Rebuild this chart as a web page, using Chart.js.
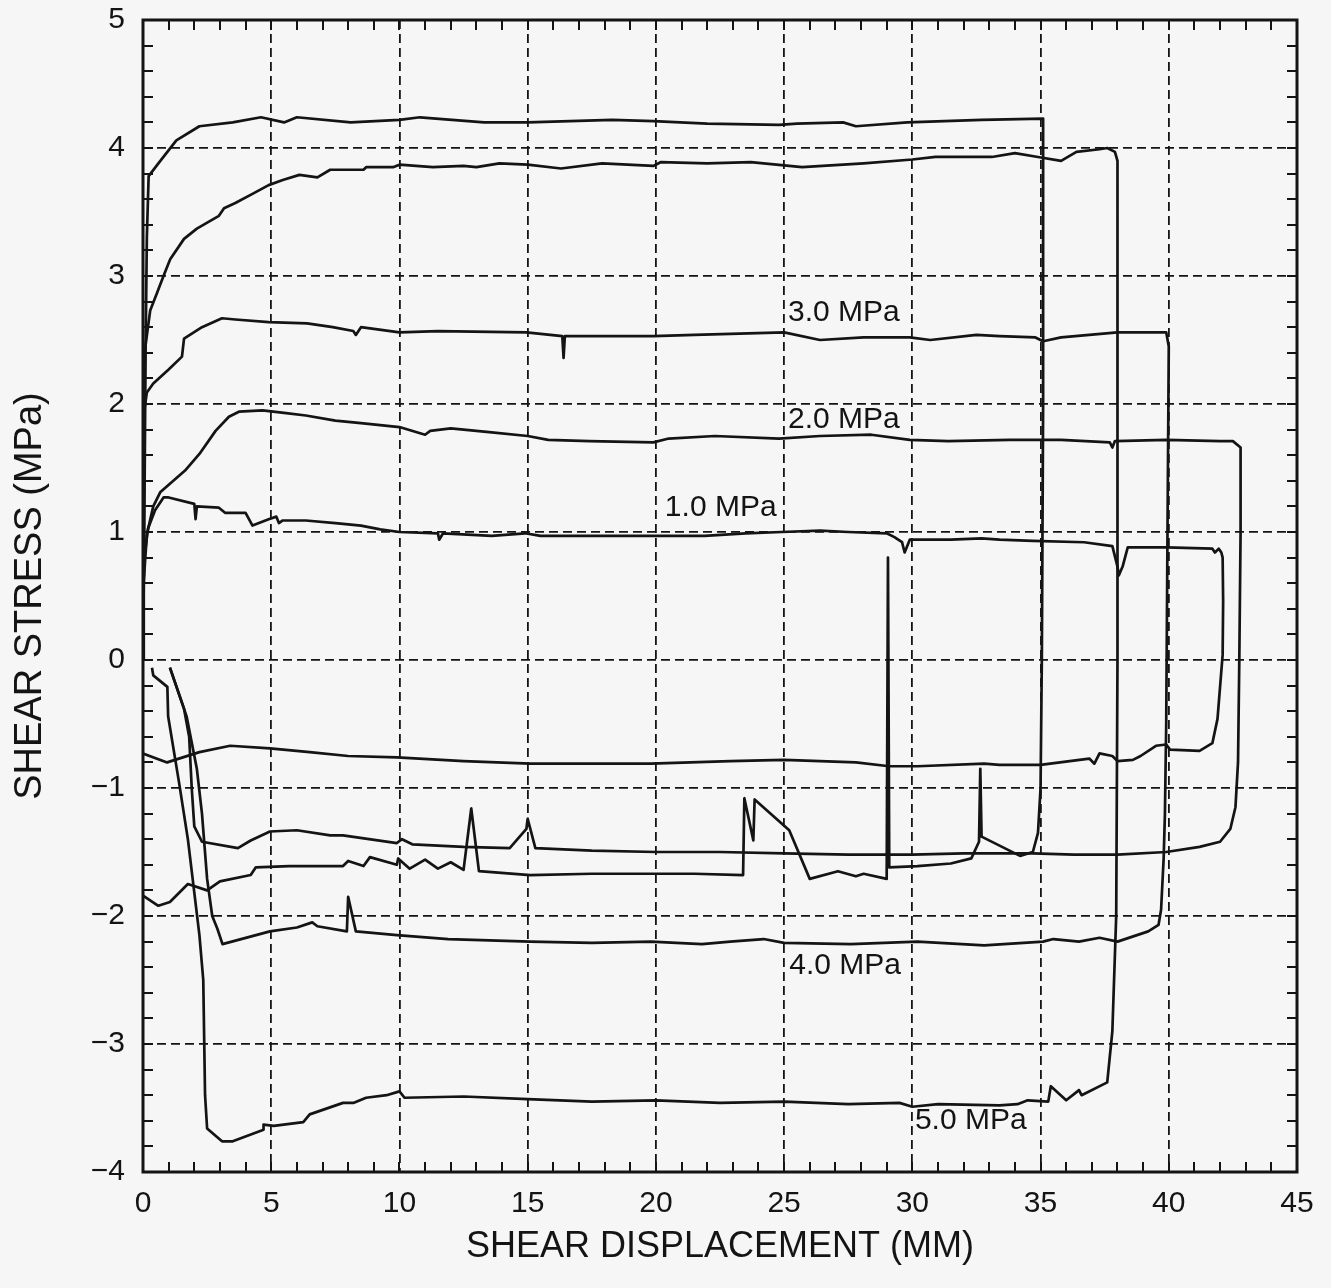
<!DOCTYPE html>
<html>
<head>
<meta charset="utf-8">
<title>Shear stress vs shear displacement</title>
<script src="https://cdn.jsdelivr.net/npm/chart.js@4.4.1/dist/chart.umd.min.js"></script>
<style>
  html, body { margin: 0; padding: 0; background: #f6f6f6; }
  #wrap { width: 1331px; height: 1288px; }
</style>
</head>
<body>
<div id="wrap"><canvas id="shearChart" width="1331" height="1288"></canvas></div>
<script>
// [displacement mm, shear stress MPa], forward leg then reverse leg
const run1 = [[0,0],[0.02,0.53],[0.05,0.8],[0.2,1.03],[0.47,1.17],[0.8,1.27],[1.0,1.27],[2.0,1.22],[2.05,1.1],[2.1,1.2],[2.96,1.19],[3.2,1.15],[4.0,1.15],[4.27,1.05],[4.9,1.1],[5.2,1.12],[5.3,1.07],[5.45,1.09],[6.35,1.09],[7.5,1.07],[8.5,1.05],[9.25,1.02],[10,1.0],[11.5,0.99],[11.55,0.94],[11.7,0.99],[13.6,0.97],[14.9,0.99],[15.5,0.97],[17.5,0.97],[19.7,0.97],[21.9,0.97],[23.5,0.99],[24.9,1.0],[26.4,1.01],[27.5,1.0],[29.0,0.99],[29.3,0.96],[29.6,0.92],[29.7,0.84],[29.9,0.94],[31.5,0.94],[32.7,0.95],[33.4,0.94],[34.7,0.93],[36.7,0.92],[37.8,0.89],[38.0,0.73],[38.05,0.66],[38.2,0.73],[38.4,0.88],[39.9,0.88],[41.7,0.87],[41.8,0.84],[41.95,0.87],[42.05,0.84],[42.1,0.8],[42.12,0.46],[42.1,0.04],[41.9,-0.46],[41.7,-0.65],[41.2,-0.71],[40.05,-0.7],[39.9,-0.66],[39.5,-0.67],[38.9,-0.75],[38.6,-0.78],[38.0,-0.79],[37.8,-0.75],[37.3,-0.73],[37.1,-0.81],[36.9,-0.77],[35.0,-0.82],[33.4,-0.82],[32.8,-0.81],[30.2,-0.83],[29.1,-0.83],[27.8,-0.8],[25,-0.78],[22.9,-0.79],[19.8,-0.81],[17.5,-0.81],[15.1,-0.81],[12.5,-0.79],[9.9,-0.76],[8,-0.75],[6.5,-0.72],[4.95,-0.69],[3.4,-0.67],[2.2,-0.72],[0.94,-0.8],[0,-0.73]];

const run2 = [[0,0],[0.03,0.62],[0.15,0.98],[0.4,1.2],[0.67,1.31],[1.64,1.48],[2.2,1.61],[2.83,1.79],[3.35,1.9],[3.74,1.94],[4.66,1.95],[5.5,1.93],[6.35,1.91],[7.5,1.87],[8.5,1.85],[10,1.82],[11,1.76],[11.2,1.79],[12,1.81],[13.5,1.78],[15,1.75],[15.8,1.72],[17.4,1.71],[19.9,1.7],[20.5,1.73],[22.3,1.75],[24.8,1.73],[26.4,1.75],[28.4,1.76],[29.9,1.72],[31.4,1.71],[33.8,1.72],[35.8,1.72],[37.7,1.7],[37.8,1.66],[37.9,1.71],[39.9,1.72],[42.0,1.71],[42.5,1.71],[42.8,1.66],[42.8,1.0],[42.75,0],[42.7,-0.8],[42.6,-1.15],[42.4,-1.32],[42.0,-1.42],[41.2,-1.46],[39.9,-1.5],[38,-1.52],[36.3,-1.52],[34.7,-1.51],[32,-1.51],[30,-1.52],[27.5,-1.52],[25,-1.51],[22.5,-1.5],[20,-1.5],[17.5,-1.49],[15.3,-1.47],[15.0,-1.24],[14.95,-1.32],[14.3,-1.47],[12.5,-1.46],[10.5,-1.44],[10.1,-1.4],[9.9,-1.43],[7.8,-1.37],[7.3,-1.37],[6.0,-1.33],[4.95,-1.34],[4.2,-1.41],[3.7,-1.47],[2.3,-1.42],[2.0,-1.3],[1.9,-1.0],[1.8,-0.6],[1.6,-0.38],[1.05,-0.06]];

const run3 = [[0,0],[0.02,1.2],[0.05,1.95],[0.15,2.09],[0.4,2.16],[1.0,2.27],[1.52,2.37],[1.6,2.51],[2.3,2.6],[3.08,2.67],[3.6,2.66],[4.9,2.64],[6.4,2.63],[7.4,2.6],[8.2,2.57],[8.3,2.54],[8.5,2.6],[10,2.56],[11.5,2.57],[14.95,2.56],[16.35,2.53],[16.4,2.36],[16.45,2.53],[18,2.53],[19.9,2.53],[21.5,2.54],[25.0,2.56],[26.4,2.5],[28.1,2.52],[29.9,2.52],[30.7,2.5],[32.5,2.54],[33.4,2.53],[34.8,2.52],[35.1,2.49],[35.8,2.52],[38,2.56],[39.9,2.56],[40.0,2.45],[39.95,1.0],[39.9,-0.5],[39.85,-1.2],[39.8,-1.55],[39.7,-1.95],[39.6,-2.07],[39.2,-2.12],[38.0,-2.2],[37.3,-2.17],[36.5,-2.2],[35.5,-2.18],[35.1,-2.2],[32.8,-2.23],[30.2,-2.2],[27.6,-2.22],[25,-2.21],[24.2,-2.18],[22.9,-2.2],[21.8,-2.22],[19.8,-2.2],[17.5,-2.21],[15.1,-2.2],[11.9,-2.18],[9.9,-2.15],[8.3,-2.12],[8.0,-1.85],[7.95,-2.12],[6.8,-2.08],[6.6,-2.05],[6.0,-2.09],[4.95,-2.12],[3.1,-2.22],[2.9,-2.1],[2.7,-2.0],[2.5,-1.71],[2.3,-1.2],[2.1,-0.85],[1.7,-0.44],[1.05,-0.06]];

const run4 = [[0,0],[0.05,1.0],[0.1,2.4],[0.15,3.3],[0.22,3.78],[0.6,3.88],[1.3,4.06],[2.2,4.17],[3.5,4.2],[4.6,4.24],[5.5,4.2],[6,4.24],[8.1,4.2],[10,4.22],[10.8,4.24],[13.3,4.2],[15,4.2],[18.3,4.22],[19.9,4.21],[22,4.19],[24.8,4.18],[25.5,4.19],[27.3,4.2],[27.8,4.17],[29.8,4.2],[32.7,4.22],[35.1,4.23],[35.1,2.0],[35.05,0],[35.0,-1.0],[34.9,-1.35],[34.7,-1.5],[34.2,-1.53],[32.7,-1.38],[32.65,-0.85],[32.6,-1.42],[32.3,-1.55],[31.5,-1.59],[30.2,-1.61],[29.1,-1.62],[29.05,0.8],[29.0,-1.71],[28.1,-1.67],[27.8,-1.69],[27.1,-1.65],[26.0,-1.71],[25.2,-1.33],[23.85,-1.09],[23.8,-1.41],[23.45,-1.08],[23.4,-1.68],[21.5,-1.67],[19.8,-1.67],[17.5,-1.67],[15.1,-1.68],[13.1,-1.65],[12.8,-1.16],[12.5,-1.64],[12.0,-1.58],[11.5,-1.63],[11.0,-1.56],[10.4,-1.63],[9.95,-1.55],[9.9,-1.6],[8.85,-1.54],[8.6,-1.61],[8.0,-1.57],[7.8,-1.61],[5.7,-1.61],[4.4,-1.62],[4.2,-1.68],[3.0,-1.73],[2.5,-1.8],[1.75,-1.75],[1.05,-1.89],[0.6,-1.92],[0,-1.84]];

const run5 = [[0,0],[0.04,1.5],[0.08,2.43],[0.28,2.73],[0.55,2.87],[0.8,3.0],[1.06,3.13],[1.6,3.29],[2.1,3.37],[2.96,3.47],[3.16,3.53],[3.6,3.57],[4.25,3.64],[4.9,3.71],[5.45,3.75],[6.1,3.79],[6.8,3.77],[7.3,3.83],[8.6,3.83],[8.7,3.85],[9.75,3.85],[10.0,3.87],[11.3,3.85],[12.5,3.86],[13.0,3.85],[13.9,3.88],[15,3.87],[16.3,3.84],[17.9,3.88],[19.9,3.86],[20.2,3.89],[22,3.88],[23.7,3.89],[25.7,3.85],[28.1,3.88],[30,3.91],[30.9,3.93],[33.1,3.93],[34.0,3.96],[34.9,3.93],[35.8,3.9],[36.4,3.97],[37.3,3.99],[37.6,4.0],[37.9,3.97],[38.0,3.9],[38.0,0],[37.95,-2.0],[37.8,-2.9],[37.6,-3.3],[36.6,-3.4],[36.5,-3.36],[36.0,-3.44],[35.4,-3.33],[35.3,-3.45],[34.5,-3.44],[34.1,-3.47],[33.4,-3.48],[31,-3.47],[30,-3.49],[29.5,-3.46],[27.5,-3.47],[25,-3.45],[22.5,-3.46],[20,-3.44],[17.5,-3.45],[15,-3.43],[12.5,-3.41],[10.2,-3.42],[10.0,-3.37],[9.5,-3.4],[8.7,-3.42],[8.2,-3.46],[7.8,-3.46],[6.5,-3.55],[6.25,-3.61],[5.1,-3.64],[4.7,-3.63],[4.7,-3.67],[3.5,-3.76],[3.08,-3.76],[2.5,-3.66],[2.42,-3.4],[2.35,-2.5],[2.2,-2.15],[1.75,-1.4],[1.4,-0.95],[0.98,-0.44],[0.95,-0.21],[0.4,-0.12],[0.35,-0.06]];

const xTicks = [0, 5, 10, 15, 20, 25, 30, 35, 40, 45];
const yTicks = [-4, -3, -2, -1, 0, 1, 2, 3, 4, 5];

// normal stress labels written on the plot, anchored in data units (left edge, middle)
const noteText = ['3.0 MPa', '2.0 MPa', '1.0 MPa', '4.0 MPa', '5.0 MPa'];
const noteAt = [[25.15, 2.71], [25.15, 1.88], [20.35, 1.19], [25.2, -2.39], [30.1, -3.6]];

const ink = '#141414';
const fontFam = '"Liberation Sans", Arial, Helvetica, sans-serif';
Chart.defaults.font.family = fontFam;
Chart.defaults.color = ink;

const minus = v => (v < 0 ? '\u2212' + Math.abs(v) : String(v));

const frameTicks = {
  id: 'frameTicks',
  afterDatasetsDraw(chart) {
    const { ctx, chartArea: a, scales: { x, y } } = chart;
    ctx.save();
    ctx.strokeStyle = ink;
    ctx.lineWidth = 2;
    ctx.beginPath();
    for (let v = 0; v <= 45; v++) {
      const px = Math.round(x.getPixelForValue(v));
      ctx.moveTo(px, a.bottom); ctx.lineTo(px, a.bottom - 10);
      ctx.moveTo(px, a.top); ctx.lineTo(px, a.top + 10);
    }
    for (let k = -20; k <= 25; k++) {
      const py = Math.round(y.getPixelForValue(k / 5));
      ctx.moveTo(a.left, py); ctx.lineTo(a.left + 10, py);
      ctx.moveTo(a.right, py); ctx.lineTo(a.right - 10, py);
    }
    ctx.stroke();
    ctx.lineWidth = 3;
    ctx.strokeRect(a.left, a.top, a.right - a.left, a.bottom - a.top);

    ctx.fillStyle = ink;
    ctx.font = '30px ' + fontFam;
    ctx.textAlign = 'left';
    ctx.textBaseline = 'middle';
    noteText.forEach((t, i) => {
      ctx.fillText(t, x.getPixelForValue(noteAt[i][0]), y.getPixelForValue(noteAt[i][1]));
    });
    ctx.restore();
  }
};

const runs = [run1, run2, run3, run4, run5];

new Chart(document.getElementById('shearChart'), {
  type: 'scatter',
  data: {
    datasets: runs.map((r, i) => ({
      label: noteText[i],
      data: r.map(p => ({ x: p[0], y: p[1] })),
      showLine: true,
      borderColor: ink,
      borderWidth: 2.7,
      borderJoinStyle: 'round',
      pointRadius: 0,
      fill: false,
      tension: 0
    }))
  },
  options: {
    responsive: false,
    devicePixelRatio: 1,
    animation: false,
    layout: { padding: { top: 20, right: 34, left: 0, bottom: 0 } },
    plugins: { legend: { display: false }, tooltip: { enabled: false } },
    scales: {
      x: {
        type: 'linear',
        min: 0,
        max: 45,
        afterBuildTicks: s => { s.ticks = xTicks.map(v => ({ value: v })); },
        afterFit: s => { s.height = 116; s.paddingLeft = 0; s.paddingRight = 0; },
        ticks: { autoSkip: false, maxRotation: 0, padding: 14, font: { size: 30 }, color: ink, callback: minus },
        grid: { color: ink, lineWidth: 1.8, drawTicks: false },
        border: { display: false, dash: [9, 5] },
        title: {
          display: true,
          text: 'SHEAR DISPLACEMENT (MM)',
          font: { size: 36 },
          color: ink,
          padding: { top: 0, bottom: 19 }
        }
      },
      y: {
        type: 'linear',
        min: -4,
        max: 5,
        afterBuildTicks: s => { s.ticks = yTicks.map(v => ({ value: v })); },
        afterFit: s => { s.width = 143; s.paddingTop = 0; s.paddingBottom = 0; },
        ticks: { padding: 18, font: { size: 30 }, color: ink, callback: minus },
        grid: { color: ink, lineWidth: 1.8, drawTicks: false },
        border: { display: false, dash: [9, 5] },
        title: {
          display: true,
          text: 'SHEAR STRESS (MPa)',
          font: { size: 38 },
          color: ink,
          padding: { top: 8, bottom: 0 }
        }
      }
    }
  },
  plugins: [frameTicks]
});
</script>
</body>
</html>
